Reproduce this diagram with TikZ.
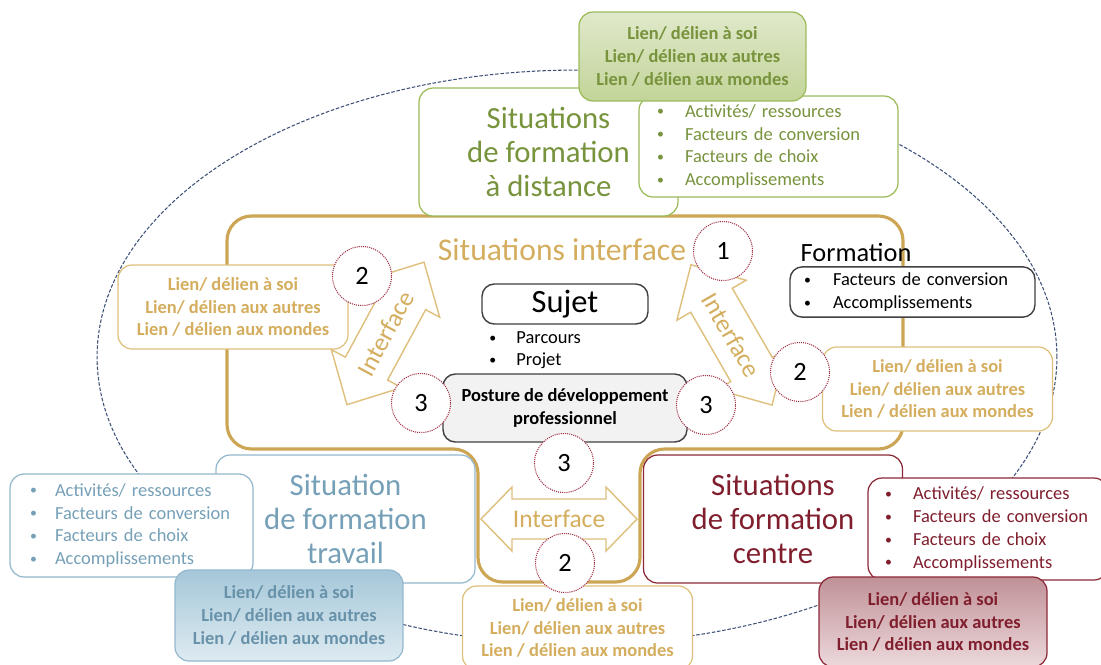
\documentclass[tikz,border=0pt]{standalone}
\usepackage{fontspec}
\setmainfont{Carlito}
\usepackage{xcolor}
\usepackage{tikz}
\usetikzlibrary{positioning, shapes.geometric}

\definecolor{distgreen}{RGB}{119,147,60}
\definecolor{distline}{RGB}{155,187,89}
\definecolor{disttop}{RGB}{224,233,203}
\definecolor{distbot}{RGB}{194,212,152}
\definecolor{ifgold}{RGB}{204,166,84}
\definecolor{iftext}{RGB}{212,174,94}
\definecolor{ifline}{RGB}{222,192,124}
\definecolor{travblue}{RGB}{118,160,184}
\definecolor{travline}{RGB}{147,184,205}
\definecolor{travtop}{RGB}{165,199,217}
\definecolor{travbot}{RGB}{222,235,241}
\definecolor{travdark}{RGB}{104,146,170}
\definecolor{centred}{RGB}{128,30,45}
\definecolor{centline}{RGB}{140,40,55}
\definecolor{centtop}{RGB}{192,145,151}
\definecolor{centbot}{RGB}{236,217,220}
\definecolor{circred}{RGB}{160,50,70}
\definecolor{ovalblue}{RGB}{60,80,120}
\definecolor{darkline}{RGB}{64,64,64}

\newcommand{\itm}[1][0.56cm]{\makebox[#1][l]{\raisebox{0.15ex}{\scalebox{0.75}{\textbullet}}}}

\begin{document}
\begin{tikzpicture}[
    x=0.02cm, y=-0.02cm,
    titlebox/.style={draw, rounded corners=8pt, fill=white, align=center, line width=0.7pt, minimum width=5.18cm, minimum height=2.56cm, font=\fontsize{17.5}{19.3}\selectfont},
    listbox/.style={draw, rounded corners=8pt, fill=white, align=left, line width=0.7pt, font=\fontsize{10.5}{13}\selectfont},
    lienbox/.style={draw, rounded corners=8pt, fill=white, align=center, line width=0.7pt, minimum width=4.6cm, minimum height=1.68cm, font=\fontsize{10.5}{13}\selectfont\bfseries},
    blackbox/.style={draw=darkline, rounded corners=7pt, fill=white, line width=0.8pt},
    numcirc/.style={circle, draw=circred, dash pattern=on 0.6pt off 0.6pt, line width=0.6pt, fill=white, minimum size=1.18cm, inner sep=0pt, font=\fontsize{15}{15}\selectfont},
    ifzone/.style={draw=ifgold, line width=1.8pt, fill=white, rounded corners=14pt},
    ifarrow/.style={draw=ifline, fill=white, line width=0.8pt},
    iflabel/.style={text=iftext, inner sep=0pt, font=\fontsize{14.5}{14.5}\selectfont},
    oval/.style={draw=ovalblue, line width=0.6pt, dash pattern=on 2pt off 1pt},
]
    \useasboundingbox (0,0) rectangle (1101,664);
    \clip (0,0) rectangle (1101,664);

    % outer oval
    \draw[oval] (577,357) ellipse [x radius=9.6cm, y radius=5.74cm];

    % interface zone
    \draw[ifzone] (565,216) -- (903,216) -- (903,449) -- (640,449) -- (640,582) -- (478,582) -- (478,449) -- (227,449) -- (227,216) -- cycle;
    \node[text=iftext, font=\fontsize{18}{18}\selectfont] (iftitle) at (562,250) {Situations interface};

    % distance (top)
    \node[titlebox, draw=distline, text=distgreen] (disttitle) at (548.5,152) {Situations\\de formation\\à distance};
    \node[listbox, draw=distline, text=distgreen, text width=4.46cm, inner xsep=0.36cm, minimum height=2.02cm] (distlist) at (768.5,146.5) {\itm Activités/ ressources\\\itm Facteurs de conversion\\\itm Facteurs de choix\\\itm Accomplissements};
    \node[lienbox, draw=distline, text=distgreen, top color=disttop, bottom color=distbot, minimum width=4.54cm, minimum height=1.78cm] (distlien) at (692.5,56.5) {Lien/ délien à soi\\Lien/ délien aux autres\\Lien / délien aux mondes};

    % travail (bottom left)
    \node[titlebox, draw=travline, text=travblue] (travtitle) at (345.5,519) {Situation\\de formation\\travail};
    \node[listbox, draw=travline, text=travblue, text width=4.06cm, inner xsep=0.4cm, minimum height=2.06cm] (travlist) at (131.5,525.5) {\itm[0.5cm]Activités/ ressources\\\itm[0.5cm]Facteurs de conversion\\\itm[0.5cm]Facteurs de choix\\\itm[0.5cm]Accomplissements};
    \node[lienbox, draw=travline, text=travdark, top color=travtop, bottom color=travbot, minimum width=4.56cm, minimum height=1.82cm] (travlien) at (289,615.5) {Lien/ délien à soi\\Lien/ délien aux autres\\Lien / délien aux mondes};

    % centre (bottom right)
    \node[titlebox, draw=centline, text=centred] (centtitle) at (773,519) {Situations\\de formation\\centre};
    \node[listbox, draw=centline, text=centred, text width=4.12cm, inner xsep=0.34cm, minimum height=2.04cm] (centlist) at (988,529) {\itm Activités/ ressources\\\itm Facteurs de conversion\\\itm Facteurs de choix\\\itm Accomplissements};
    \node[lienbox, draw=centline, text=centred, top color=centtop, bottom color=centbot, minimum width=4.56cm, minimum height=1.8cm] (centlien) at (933,622) {Lien/ délien à soi\\Lien/ délien aux autres\\Lien / délien aux mondes};

    % interface arrows
    \coordinate (ifl) at (385.5,333.4);
    \coordinate (ifr) at (731.5,334.9);
    \coordinate (ifb) at (559,519);
    \draw[ifarrow, shift={(ifl)}, rotate=61.6] (81,0) -- (40,40) -- (40,24) -- (-40,24) -- (-40,40) -- (-81,0) -- (-40,-40) -- (-40,-24) -- (40,-24) -- (40,-40) -- cycle;
    \draw[ifarrow, shift={(ifr)}, rotate=120] (81,0) -- (40,40) -- (40,24) -- (-40,24) -- (-40,40) -- (-81,0) -- (-40,-40) -- (-40,-24) -- (40,-24) -- (40,-40) -- cycle;
    \draw[ifarrow, shift={(ifb)}] (78,0) -- (47,32) -- (47,20) -- (-47,20) -- (-47,32) -- (-78,0) -- (-47,-32) -- (-47,-20) -- (47,-20) -- (47,-32) -- cycle;
    \node[iflabel, rotate=61.6] (ifltext) at (ifl) {Interface};
    \node[iflabel, rotate=-60] (ifrtext) at (ifr) {Interface};
    \node[iflabel] (ifbtext) at (ifb) {Interface};

    % gold links
    \node[lienbox, draw=ifline, text=iftext] (leftlien) at (233,307) {Lien/ délien à soi\\Lien/ délien aux autres\\Lien / délien aux mondes};
    \node[lienbox, draw=ifline, text=iftext] (rightlien) at (937.5,389) {Lien/ délien à soi\\Lien/ délien aux autres\\Lien / délien aux mondes};
    \node[lienbox, draw=ifline, text=iftext] (botlien) at (577.5,628) {Lien/ délien à soi\\Lien/ délien aux autres\\Lien / délien aux mondes};

    % subject
    \node[blackbox, minimum width=3.32cm, minimum height=0.8cm, font=\fontsize{18.5}{18.5}\selectfont] (sujet) at (565,304) {Sujet};
    \node[anchor=west, inner sep=0pt, align=left, font=\fontsize{10.5}{12.5}\selectfont] (sujetlist) at (489,350) {\itm[0.54cm]Parcours\\\itm[0.54cm]Projet};
    \node[blackbox, fill=black!5, align=center, minimum width=4.88cm, minimum height=1.36cm, font=\fontsize{10.5}{13}\selectfont\bfseries] (posture) at (565,408) {Posture de développement\\professionnel};

    % formation
    \node[font=\fontsize{15}{15}\selectfont] (formtitle) at (856,252) {Formation};
    \node[blackbox, align=left, text width=4.34cm, inner xsep=0.28cm, minimum height=0.92cm, font=\fontsize{10.5}{13}\selectfont] (formlist) at (912.5,292) {\itm[0.58cm]Facteurs de conversion\\\itm[0.58cm]Accomplissements};

    % numbers
    \node[numcirc] (n1)  at (723,251) {1};
    \node[numcirc] (n2l) at (362,276) {2};
    \node[numcirc] (n3l) at (421,403) {3};
    \node[numcirc] (n2r) at (800,372) {2};
    \node[numcirc] (n3r) at (706,405) {3};
    \node[numcirc] (n3b) at (564,463) {3};
    \node[numcirc] (n2b) at (565,563) {2};
\end{tikzpicture}
\end{document}
